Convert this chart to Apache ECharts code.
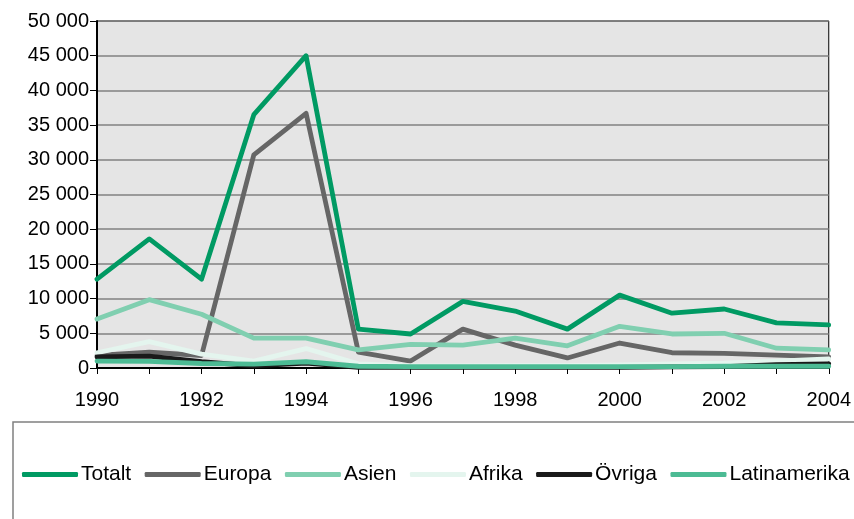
<!DOCTYPE html>
<html>
<head>
<meta charset="utf-8">
<script src="https://cdn.jsdelivr.net/npm/echarts@6/dist/echarts.min.js"></script>
<style>
html,body{margin:0;padding:0;background:#fff;}
#chart{width:854px;height:519px;}
</style>
</head>
<body>
<div id="chart"></div>
<script>
const years = ['1990','1991','1992','1993','1994','1995','1996','1997','1998','1999','2000','2001','2002','2003','2004'];
const totalt = [12800,18600,12800,36500,45000,5600,4900,9600,8200,5600,10500,7900,8500,6500,6200];
const europa = [1800,2300,1800,30700,36700,2300,1000,5600,3300,1450,3600,2200,2100,1850,1600];
const asien = [7050,9850,7750,4300,4300,2600,3400,3300,4300,3200,6000,4900,5000,2850,2600];
const afrika = [2200,3800,2000,1000,2800,600,300,300,350,350,450,600,700,1000,1300];
const ovriga = [1600,1700,900,300,700,100,100,100,100,100,100,150,200,500,600];
const latinamerika = [1000,950,650,550,900,250,200,200,200,200,200,200,250,250,250];
const yTicks = [0,5000,10000,15000,20000,25000,30000,35000,40000,45000,50000];

const names = ['Totalt','Europa','Asien','Afrika','Övriga','Latinamerika'];
const colors = ['#009a63','#666666','#80cfb0','#e4f5ee','#1a1a1a','#4cbb94'];
const datas = [totalt, europa, asien, afrika, ovriga, latinamerika];

const font = 'Liberation Sans, Arial, sans-serif';
function fmt(v){ return String(v).replace(/\B(?=(\d{3})+(?!\d))/g,' '); }

const chart = echarts.init(document.getElementById('chart'), null, {renderer:'canvas'});
chart.setOption({
  animation:false,
  backgroundColor:'#ffffff',
  textStyle:{fontFamily:font},
  grid:{left:97,right:25,top:21,bottom:151,show:true,backgroundColor:'#e5e5e5',borderColor:'#000',borderWidth:1,containLabel:false},
  legend:{
    left:22, top:464, width:850, padding:0,
    itemWidth:56, itemHeight:5, itemGap:13.5,
    icon:'roundRect',
    textStyle:{fontFamily:font,fontSize:21,color:'#000',padding:[0,0,0,-2]},
    data:names
  },
  xAxis:{
    type:'category', data:years, boundaryGap:false,
    axisLine:{lineStyle:{color:'#000',width:2}},
    axisTick:{show:true,interval:0,length:6,lineStyle:{color:'#000',width:1}},
    axisLabel:{interval:1,margin:22,fontSize:20,color:'#000',fontFamily:font},
    splitLine:{show:false}
  },
  yAxis:{
    type:'value', min:yTicks[0], max:yTicks[yTicks.length-1], interval:5000,
    axisLine:{show:true,lineStyle:{color:'#000',width:2}},
    axisTick:{show:true,length:7,lineStyle:{color:'#000',width:1}},
    axisLabel:{margin:8,fontSize:20,color:'#000',fontFamily:font,formatter:fmt},
    splitLine:{show:true,lineStyle:{color:'#808080',width:1.5}}
  },
  graphic:[{
    type:'rect', shape:{x:13,y:422,width:900,height:200},
    style:{fill:'none',stroke:'#808080',lineWidth:1.5}, z:-1
  }],
  series: names.map((n,i)=>({
    name:n, type:'line', data:datas[i], symbol:'none', showSymbol:false,
    itemStyle:{color:colors[i]},
    lineStyle:{color:colors[i],width:4.8,cap:'round',join:'round'}
  }))
});
</script>
</body>
</html>
